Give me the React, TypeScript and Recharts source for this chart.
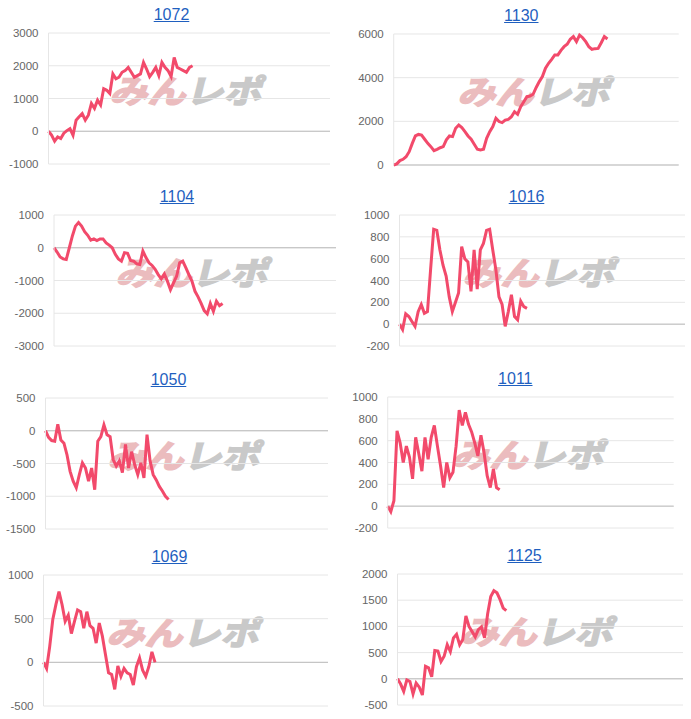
import { LineChart, Line, XAxis, YAxis, CartesianGrid, ReferenceLine } from 'recharts';

// every panel shares the same game-count axis; each machine stops at its own length
const SPAN = 92;

const titles = ['1072', '1130', '1104', '1016', '1050', '1011', '1069', '1125'];

const s1072 = [0, -120, -300, -170, -220, -60, 20, 80, -120, 340, 440, 540, 340, 490, 850, 700, 950, 800, 1300, 1250, 1150, 1750, 1600, 1650, 1800, 1850, 1950, 1800, 1650, 1700, 1750, 2100, 1900, 1670, 1800, 1950, 1700, 2100, 1950, 1850, 1670, 2250, 1950, 1900, 1850, 1800, 1950, 2000];
const s1130 = [0, 50, 200, 260, 380, 610, 990, 1330, 1400, 1370, 1180, 990, 840, 660, 720, 790, 840, 1150, 1330, 1300, 1680, 1830, 1710, 1530, 1330, 1180, 950, 720, 690, 720, 1220, 1530, 1760, 2140, 1990, 1940, 2060, 2090, 2210, 2440, 2320, 2670, 2900, 3130, 3160, 3240, 3550, 3820, 4050, 4430, 4660, 4840, 5040, 5040, 5250, 5420, 5530, 5760, 5880, 5650, 5950, 5830, 5650, 5420, 5300, 5330, 5340, 5600, 5880, 5770];
const s1104 = [0, -130, -280, -340, -360, 0, 360, 660, 770, 660, 490, 380, 230, 270, 220, 270, 270, 150, 80, 0, -200, -340, -410, -150, -170, -390, -410, -490, -510, -100, -300, -460, -540, -660, -820, -950, -800, -1020, -1280, -1070, -870, -460, -410, -610, -820, -1020, -1330, -1500, -1700, -1920, -2020, -1700, -1940, -1630, -1770, -1700];
const s1016 = [0, -50, 95, 70, 25, -20, 115, 180, 100, 115, 500, 870, 860, 680, 540, 440, 250, 115, 200, 285, 710, 600, 570, 300, 680, 320, 680, 740, 860, 870, 680, 500, 250, 180, -20, 115, 270, 70, 40, 210, 160, 145];
const s1050 = [0, -100, -150, -160, 100, -140, -190, -370, -620, -770, -870, -670, -490, -570, -770, -570, -900, -160, -90, 90, -60, -90, -440, -540, -460, -640, -210, -570, -320, -520, -670, -490, -720, -60, -460, -670, -750, -850, -920, -1000, -1050];
const s1011 = [0, -50, 50, 690, 580, 400, 550, 450, 250, 630, 480, 320, 630, 430, 630, 740, 550, 370, 170, 400, 260, 310, 550, 880, 740, 860, 750, 680, 580, 460, 650, 490, 280, 170, 340, 170, 150];
const s1069 = [0, -70, 180, 490, 660, 810, 660, 470, 540, 330, 470, 600, 580, 390, 580, 420, 390, 220, 450, 300, 90, -120, -140, -310, -40, -160, -70, -120, -140, -260, -50, 50, -90, -160, -50, 120, 0];
const s1125 = [0, -100, -240, -20, -50, -290, -80, -160, -310, 240, 210, 40, 540, 530, 330, 430, 650, 520, 780, 850, 650, 750, 1200, 1000, 900, 800, 940, 990, 780, 1240, 1570, 1680, 1640, 1510, 1350, 1300];

const ticks1072 = [-1000, 0, 1000, 2000, 3000];
const ticks1130 = [0, 2000, 4000, 6000];
const ticks1104 = [-3000, -2000, -1000, 0, 1000];
const ticks1016 = [-200, 0, 200, 400, 600, 800, 1000];
const ticks1050 = [-1500, -1000, -500, 0, 500];
const ticks1011 = [-200, 0, 200, 400, 600, 800, 1000];
const ticks1069 = [-500, 0, 500, 1000];
const ticks1125 = [-500, 0, 500, 1000, 1500, 2000];

const series = [s1072, s1130, s1104, s1016, s1050, s1011, s1069, s1125];
const tickSets = [ticks1072, ticks1130, ticks1104, ticks1016, ticks1050, ticks1011, ticks1069, ticks1125];

// panel placement: top of cell, title centre, plot left/right edges
const layout = [
  { top: 0, cx: 171.5, left: 48, right: 330 },
  { top: 1, cx: 521.3, left: 394, right: 679 },
  { top: 182, cx: 177, left: 54, right: 336 },
  { top: 182, cx: 526.5, left: 399, right: 685 },
  { top: 365, cx: 168.5, left: 45, right: 328 },
  { top: 363.5, cx: 515.3, left: 388, right: 674 },
  { top: 542, cx: 169.5, left: 43, right: 328 },
  { top: 541, cx: 524.5, left: 397, right: 683 },
];

const FONT = '"Liberation Sans", Arial, Helvetica, sans-serif';

function Panel({ idx }: { idx: number }) {
  const { top, cx, left, right } = layout[idx];
  const ticks = tickSets[idx];
  const data = series[idx].map((v, i) => ({ i, v }));
  const boxLeft = cx - 170;
  const mid = (left + right) / 2;

  return (
    <>
      {/* site watermark sits behind the plot */}
      <div
        style={{
          position: 'absolute',
          left: mid - 100,
          top: top + 70,
          width: 200,
          textAlign: 'center',
          fontFamily: '"Noto Sans CJK JP", sans-serif',
          fontWeight: 700,
          fontSize: 38,
          lineHeight: '38px',
          letterSpacing: 0,
          transform: 'skewX(-14deg) scaleY(0.85)',
          whiteSpace: 'nowrap',
        }}
      >
        <span style={{ color: '#ebbcbe', WebkitTextStroke: '2px #ebbcbe' }}>みん</span>
        <span style={{ color: '#c9c9c9', WebkitTextStroke: '2px #c9c9c9' }}>レポ</span>
      </div>
      <div
        style={{
          position: 'absolute',
          left: cx - 60,
          top: top + 5,
          width: 120,
          textAlign: 'center',
          fontFamily: FONT,
          fontSize: 16,
          lineHeight: '19px',
          color: '#1f5fbf',
          textDecoration: 'underline',
        }}
      >
        {titles[idx]}
      </div>
      <div style={{ position: 'absolute', left: boxLeft, top }}>
        <LineChart width={right - boxLeft} height={170} data={data} margin={{ top: 33, right: 0, bottom: 6, left: 0 }}>
          <CartesianGrid vertical={false} stroke="#e6e6e6" />
          <XAxis type="number" dataKey="i" domain={[0, SPAN]} hide />
          <YAxis
            width={left - boxLeft}
            domain={[ticks[0], ticks[ticks.length - 1]]}
            ticks={ticks}
            interval={0}
            tickLine={false}
            tickSize={0}
            tickMargin={10}
            axisLine={{ stroke: '#e6e6e6' }}
            tick={{ fontSize: 11.5, fill: '#666', fontFamily: FONT }}
          />
          <ReferenceLine y={0} stroke="#bdbdbd" />
          <Line
            type="linear"
            dataKey="v"
            stroke="#f24a6b"
            strokeWidth={3}
            dot={false}
            activeDot={false}
            isAnimationActive={false}
          />
        </LineChart>
      </div>
    </>
  );
}

export default function App() {
  return (
    <div style={{ position: 'absolute', left: 0, top: 0, width: 691, height: 719, background: '#fff', overflow: 'hidden' }}>
      {titles.map((_, idx) => (
        <Panel key={idx} idx={idx} />
      ))}
    </div>
  );
}
